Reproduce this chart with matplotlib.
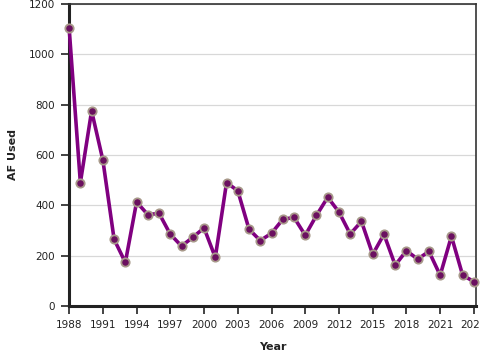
import numpy as np
import matplotlib
matplotlib.use("Agg")
import matplotlib.pyplot as plt

# AF used per year
years = list(range(1988, 2025))
af_used = [1105, 490, 775, 580, 265, 173, 413, 363, 368, 285,
           238, 273, 310, 193, 490, 458, 305, 260, 289, 344,
           352, 281, 360, 432, 373, 286, 336, 205, 285, 162,
           220, 186, 217, 122, 277, 122, 97]
x_ticks = list(range(1988, 2025, 3))
y_ticks = [0, 200, 400, 600, 800, 1000, 1200]

fig = plt.figure(figsize=(4.8, 3.6), dpi=100)
ax = fig.add_axes([0.144, 0.15, 0.848, 0.839])

ax.plot(years, af_used, color="#800080", lw=2.6, zorder=3, clip_on=False,
        marker="o", markersize=6, markerfacecolor="#6b1060",
        markeredgecolor="#a8998a", markeredgewidth=1.3)

ax.set_xlim(1988, 2024.2)
ax.set_ylim(0, 1200)
ax.set_xticks(x_ticks)
ax.set_yticks(y_ticks)
ax.grid(axis="y", color="#d8d8d8", lw=0.9)
ax.set_axisbelow(True)

for side in ["left", "bottom"]:
    ax.spines[side].set_linewidth(2.2)
    ax.spines[side].set_color("#222222")
for side in ["top", "right"]:
    ax.spines[side].set_linewidth(1.2)
    ax.spines[side].set_color("#333333")

ax.tick_params(labelsize=7.5, colors="#222222", length=6, width=1.2, pad=4)
ax.set_xlabel("Year", fontsize=8, fontweight="bold", color="#222222", labelpad=9)
ax.set_ylabel("AF Used", fontsize=8, fontweight="bold", color="#222222", labelpad=8)

fig.savefig("out.png", dpi=100)
